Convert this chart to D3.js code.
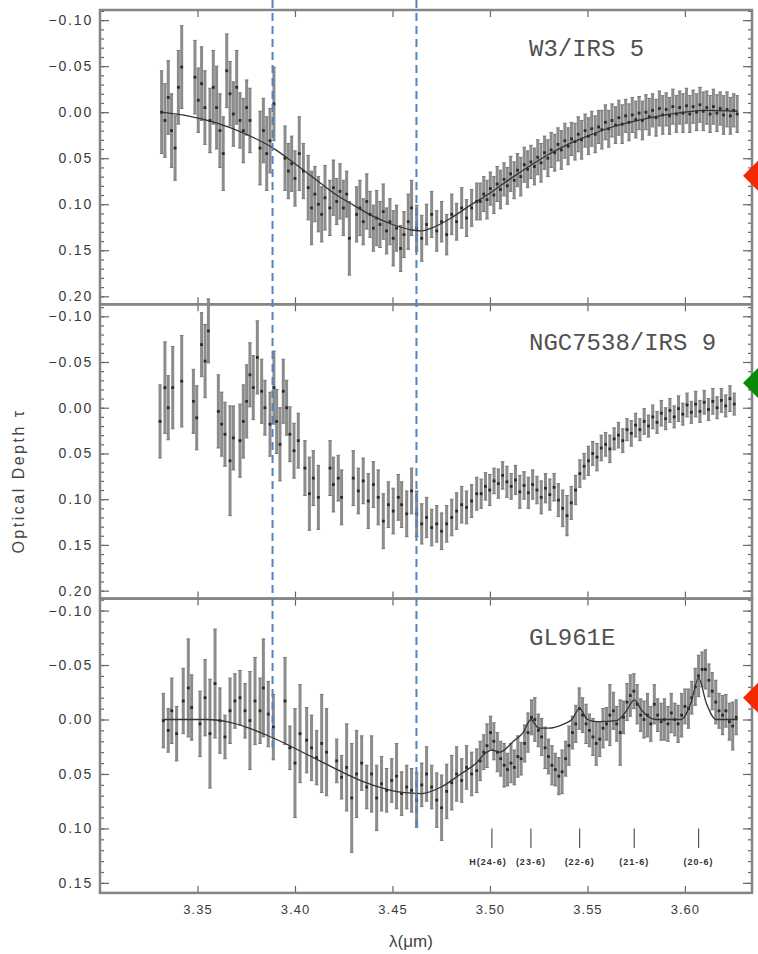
<!DOCTYPE html>
<html lang="en">
<head>
<meta charset="utf-8">
<title>Optical depth spectra</title>
<script src="https://d3js.org/d3.v7.min.js"></script>
<style>
  body { margin: 0; background: #fff; }
  svg { display: block; }
  text { font-family: "Liberation Sans", Arial, sans-serif; fill: #3c3c3c; }
  .frame { fill: none; stroke: #858585; stroke-width: 2.5; }
  .axis line { stroke: #666; stroke-width: 1.2; }
  .axis path { display: none; }
  .axis text { font-size: 14px; fill: #3a3a3a; letter-spacing: 1.8px; }
  .ebar { stroke: #8c8c8c; stroke-width: 3; }
  .cap { stroke: #777; stroke-width: 1; }
  .pt { fill: #2a2a2a; }
  .fit { fill: none; stroke: #333; stroke-width: 1.3; }
  .guide { stroke: #4a86c8; stroke-width: 2; stroke-dasharray: 8,5; }
  .name { font-family: "Liberation Mono", monospace; font-size: 24px; fill: #505050; }
  .hlab { font-size: 9px; font-weight: bold; letter-spacing: 1px; fill: #333; }
</style>
</head>
<body>
<svg id="chart" width="758" height="954"></svg>
<script>
// ---- data ----
const xTicks = [3.35, 3.40, 3.45, 3.50, 3.55, 3.60];
const panelNames = ["W3/IRS 5", "NGC7538/IRS 9", "GL961E"];
const yDomains = [[-0.111, 0.2087], [-0.1131, 0.2087], [-0.111, 0.1592]];
const yTicks = [
  [-0.10, -0.05, 0.00, 0.05, 0.10, 0.15, 0.20],
  [-0.10, -0.05, 0.00, 0.05, 0.10, 0.15, 0.20],
  [-0.10, -0.05, 0.00, 0.05, 0.10, 0.15]
];

// W3/IRS 5
const w3Wl = [3.3316,3.3333,3.3350,3.3367,3.3385,3.3402,3.3419,3.3487,3.3504,3.3521,3.3538,3.3564,3.3581,3.3598,3.3615,3.3632,3.3650,3.3667,3.3684,3.3701,3.3718,3.3735,3.3752,3.3769,3.3821,3.3838,3.3855,3.3872,3.3892,
  3.3949,3.3966,3.3983,3.4000,3.4022,3.4043,3.4068,3.4085,3.4102,3.4120,3.4137,3.4154,3.4179,3.4197,3.4214,3.4231,3.4248,3.4265,3.4279,3.4316,3.4333,3.4350,3.4368,3.4385,3.4402,3.4419,3.4436,3.4453,3.4470,3.4487,3.4504,3.4521,3.4542,3.4559,3.4581,3.4598,3.4624,3.4650,3.4675,3.4701,3.4727,3.4752,3.4778,3.4804,3.4829,3.4855,3.4880,3.4906,3.4932,
  3.4950,3.4968,3.4985,3.5002,3.5020,3.5037,3.5054,3.5072,3.5089,3.5106,3.5124,3.5141,3.5158,3.5176,3.5193,3.5210,3.5228,3.5245,3.5262,3.5280,3.5297,3.5314,3.5332,3.5349,3.5366,3.5384,3.5401,3.5418,3.5436,3.5453,3.5470,3.5488,3.5505,3.5522,3.5540,3.5557,3.5574,3.5592,3.5609,3.5626,3.5644,3.5661,3.5678,3.5696,3.5713,3.5730,3.5748,3.5765,3.5782,3.5800,3.5817,3.5834,3.5852,3.5869,3.5886,3.5904,3.5921,3.5938,3.5956,3.5973,3.5990,3.6008,3.6025,3.6042,3.6060,3.6077,3.6094,3.6112,3.6129,3.6146,3.6164,3.6181,3.6198,3.6216,3.6233,3.6250,3.6268];
const w3Tau = [0.000,0.009,-0.016,0.020,0.039,-0.027,-0.049,-0.038,-0.013,-0.031,-0.005,0.009,-0.027,-0.005,0.020,0.045,-0.045,-0.020,0.002,-0.027,0.009,0.020,-0.005,0.009,0.039,0.020,0.045,0.031,-0.009,
  0.050,0.064,0.056,0.072,0.045,0.064,0.082,0.104,0.089,0.100,0.111,0.093,0.104,0.082,0.097,0.086,0.104,0.089,0.137,0.111,0.104,0.119,0.097,0.111,0.126,0.115,0.122,0.108,0.129,0.119,0.137,0.126,0.148,0.133,0.119,0.104,0.126,0.137,0.122,0.111,0.129,0.119,0.133,0.111,0.119,0.104,0.115,0.104,0.097,
  0.097,0.089,0.095,0.083,0.090,0.078,0.084,0.073,0.080,0.067,0.074,0.063,0.070,0.057,0.062,0.054,0.059,0.049,0.055,0.044,0.050,0.041,0.044,0.035,0.041,0.031,0.037,0.029,0.032,0.024,0.030,0.020,0.026,0.018,0.024,0.016,0.019,0.011,0.018,0.009,0.014,0.006,0.013,0.004,0.011,0.003,0.008,0.001,0.009,0.000,0.005,-0.002,0.006,-0.004,0.003,-0.003,0.004,-0.006,0.002,-0.005,0.001,-0.007,0.002,-0.006,0.000,-0.008,-0.001,-0.005,0.002,-0.006,0.001,-0.004,0.003,-0.003,0.004,-0.002,0.002];
const w3Err = [0.045,0.040,0.040,0.040,0.035,0.040,0.045,0.040,0.035,0.040,0.040,0.035,0.040,0.045,0.040,0.040,0.040,0.035,0.035,0.040,0.030,0.035,0.030,0.035,0.040,0.035,0.040,0.035,0.040,
  0.035,0.030,0.030,0.030,0.040,0.030,0.035,0.040,0.030,0.030,0.030,0.035,0.030,0.030,0.025,0.030,0.030,0.025,0.040,0.030,0.030,0.025,0.030,0.025,0.025,0.030,0.025,0.030,0.025,0.025,0.030,0.025,0.025,0.025,0.030,0.030,0.025,0.025,0.022,0.025,0.022,0.022,0.022,0.022,0.020,0.022,0.020,0.020,0.020,
  0.020,0.019,0.021,0.018,0.020,0.019,0.021,0.018,0.020,0.019,0.020,0.018,0.021,0.019,0.020,0.018,0.020,0.019,0.021,0.018,0.020,0.019,0.020,0.018,0.021,0.019,0.020,0.018,0.020,0.019,0.021,0.018,0.020,0.019,0.020,0.018,0.021,0.019,0.020,0.018,0.020,0.019,0.021,0.018,0.020,0.019,0.020,0.018,0.021,0.019,0.020,0.018,0.020,0.019,0.021,0.018,0.020,0.019,0.020,0.018,0.021,0.019,0.020,0.018,0.020,0.019,0.021,0.018,0.020,0.019,0.020,0.018,0.021,0.019,0.020,0.018,0.020];
const w3FitWl = [3.331,3.345,3.360,3.375,3.388,3.400,3.410,3.420,3.430,3.440,3.450,3.460,3.465,3.470,3.480,3.490,3.500,3.510,3.520,3.530,3.540,3.550,3.560,3.570,3.580,3.590,3.600,3.610,3.627];
const w3FitTau = [0.000,0.004,0.012,0.024,0.038,0.056,0.072,0.088,0.101,0.113,0.122,0.128,0.129,0.126,0.115,0.101,0.088,0.073,0.059,0.046,0.035,0.026,0.018,0.012,0.007,0.003,0.000,-0.002,-0.001];

// NGC7538/IRS 9
const ngcWl = [3.3308,3.3333,3.3350,3.3373,3.3419,3.3479,3.3496,3.3521,3.3539,3.3556,3.3607,3.3624,3.3641,3.3667,3.3684,3.3718,3.3735,3.3752,3.3769,3.3786,3.3807,3.3829,3.3846,3.3872,3.3892,3.3906,3.3923,3.3940,3.3957,3.3974,3.3995,3.4017,3.4051,3.4074,3.4094,3.4120,3.4180,3.4197,3.4222,3.4239,3.4299,3.4325,3.4350,3.4376,3.4402,3.4427,3.4453,3.4479,3.4504,3.4530,3.4547,3.4573,3.4598,3.4624,3.4650,3.4675,3.4701,3.4727,3.4752,3.4778,3.4804,3.4829,3.4855,3.4880,3.4906,3.4932,
  3.4955,3.4977,3.4999,3.5021,3.5043,3.5065,3.5087,3.5109,3.5131,3.5153,3.5175,3.5197,3.5219,3.5241,3.5263,3.5285,3.5307,3.5329,3.5351,3.5373,3.5395,3.5417,3.5439,3.5461,3.5483,3.5505,3.5527,3.5549,3.5571,3.5593,3.5615,3.5637,3.5659,3.5681,3.5703,3.5725,3.5747,3.5769,3.5791,3.5813,3.5835,3.5857,3.5879,3.5901,3.5923,3.5945,3.5967,3.5989,3.6011,3.6033,3.6055,3.6077,3.6099,3.6121,3.6143,3.6165,3.6187,3.6209,3.6231,3.6253];
const ngcTau = [0.015,-0.022,0.000,-0.022,-0.029,-0.007,0.011,-0.069,-0.051,-0.084,0.004,0.018,0.029,0.058,0.033,0.036,0.015,-0.007,-0.036,-0.022,-0.055,-0.018,0.000,0.018,-0.022,0.015,0.040,-0.018,0.000,0.029,0.047,0.036,0.066,0.094,0.077,0.098,0.066,0.084,0.077,0.098,0.077,0.091,0.080,0.102,0.084,0.098,0.124,0.106,0.113,0.098,0.106,0.116,0.091,0.116,0.127,0.120,0.131,0.127,0.135,0.127,0.120,0.113,0.106,0.109,0.102,0.094,
  0.094,0.086,0.090,0.080,0.083,0.074,0.081,0.086,0.079,0.092,0.085,0.093,0.084,0.090,0.098,0.088,0.095,0.087,0.101,0.110,0.118,0.104,0.090,0.072,0.064,0.058,0.050,0.054,0.044,0.040,0.045,0.034,0.030,0.036,0.024,0.028,0.019,0.024,0.015,0.020,0.010,0.016,0.006,0.012,0.003,0.010,0.001,0.007,-0.003,0.005,-0.004,0.004,-0.006,0.002,-0.007,0.000,-0.008,-0.002,-0.010,-0.004];
const ngcErr = [0.040,0.050,0.035,0.045,0.050,0.035,0.035,0.035,0.040,0.035,0.040,0.035,0.035,0.060,0.035,0.040,0.040,0.040,0.035,0.035,0.040,0.035,0.030,0.035,0.040,0.035,0.040,0.035,0.030,0.030,0.030,0.030,0.030,0.040,0.030,0.035,0.030,0.030,0.025,0.030,0.030,0.025,0.025,0.030,0.025,0.030,0.030,0.025,0.025,0.025,0.025,0.025,0.025,0.025,0.022,0.022,0.020,0.020,0.020,0.020,0.020,0.020,0.020,0.018,0.018,0.018,
  0.016,0.015,0.017,0.014,0.016,0.015,0.017,0.014,0.016,0.018,0.015,0.017,0.016,0.015,0.018,0.016,0.017,0.015,0.018,0.020,0.022,0.018,0.016,0.015,0.014,0.016,0.013,0.015,0.014,0.013,0.015,0.012,0.014,0.013,0.012,0.014,0.013,0.012,0.014,0.012,0.013,0.012,0.014,0.012,0.013,0.012,0.014,0.012,0.013,0.012,0.014,0.012,0.013,0.012,0.014,0.012,0.013,0.012,0.014,0.012];

// GL961E
const glWl = [3.3325,3.3350,3.3368,3.3393,3.3427,3.3453,3.3470,3.3513,3.3539,3.3564,3.3590,3.3615,3.3641,3.3667,3.3692,3.3718,3.3744,3.3769,3.3795,3.3821,3.3838,3.3863,3.3889,3.3949,3.3974,3.4000,3.4026,3.4060,3.4085,3.4111,3.4137,3.4162,3.4214,3.4239,3.4265,3.4291,3.4316,3.4342,3.4368,3.4393,3.4419,3.4444,3.4470,3.4496,3.4521,3.4547,3.4573,3.4598,3.4624,3.4650,3.4675,3.4701,3.4727,3.4752,3.4778,3.4804,3.4829,3.4855,3.4880,3.4906,3.4932,
  3.4950,3.4968,3.4985,3.5003,3.5020,3.5038,3.5055,3.5073,3.5090,3.5108,3.5125,3.5143,3.5160,3.5178,3.5195,3.5213,3.5230,3.5248,3.5265,3.5283,3.5300,3.5318,3.5335,3.5353,3.5370,3.5388,3.5405,3.5423,3.5440,3.5458,3.5475,3.5493,3.5510,3.5528,3.5545,3.5563,3.5580,3.5598,3.5615,3.5633,3.5650,3.5668,3.5685,3.5703,3.5720,3.5738,3.5755,3.5773,3.5790,3.5808,3.5825,3.5843,3.5860,3.5878,3.5895,3.5913,3.5930,3.5948,3.5965,3.5983,3.6000,3.6018,3.6035,3.6053,3.6070,3.6088,3.6105,3.6123,3.6140,3.6158,3.6175,3.6193,3.6210,3.6228,3.6245,3.6263];
const glTau = [0.001,0.010,-0.008,0.013,-0.017,-0.029,-0.011,0.004,-0.020,0.013,-0.033,0.001,0.016,-0.008,-0.017,-0.020,-0.008,0.001,-0.017,-0.008,-0.029,-0.005,0.007,-0.017,0.026,0.040,0.013,0.019,0.026,0.035,0.022,0.030,0.038,0.053,0.044,0.072,0.050,0.040,0.062,0.050,0.072,0.059,0.065,0.056,0.052,0.068,0.062,0.065,0.074,0.060,0.050,0.062,0.074,0.081,0.066,0.058,0.050,0.056,0.044,0.050,0.047,
  0.038,0.030,0.024,0.012,0.020,0.030,0.036,0.042,0.046,0.040,0.044,0.034,0.036,0.022,0.012,-0.002,0.000,0.010,0.016,0.026,0.034,0.042,0.046,0.052,0.048,0.036,0.024,0.012,0.004,-0.010,-0.004,0.004,0.010,0.016,0.022,0.018,0.008,0.004,-0.004,-0.008,0.004,0.012,-0.002,-0.016,-0.022,-0.026,-0.014,-0.004,0.000,-0.004,0.004,-0.014,-0.004,0.002,0.000,0.004,-0.006,0.000,0.004,-0.004,-0.012,-0.010,-0.020,-0.030,-0.040,-0.046,-0.046,-0.036,-0.026,-0.016,-0.008,-0.004,-0.008,0.002,0.006,-0.002];
const glErr = [0.025,0.020,0.030,0.025,0.030,0.045,0.030,0.030,0.035,0.050,0.050,0.030,0.020,0.030,0.025,0.025,0.025,0.045,0.040,0.030,0.045,0.030,0.030,0.040,0.020,0.050,0.045,0.030,0.030,0.025,0.045,0.040,0.020,0.020,0.040,0.050,0.040,0.025,0.020,0.035,0.030,0.025,0.020,0.020,0.030,0.020,0.020,0.020,0.025,0.020,0.025,0.020,0.025,0.030,0.025,0.025,0.025,0.020,0.020,0.020,0.020,
  0.018,0.016,0.020,0.015,0.017,0.018,0.016,0.020,0.015,0.018,0.016,0.019,0.015,0.017,0.018,0.016,0.020,0.015,0.017,0.019,0.016,0.018,0.015,0.017,0.020,0.016,0.018,0.015,0.017,0.019,0.016,0.018,0.015,0.017,0.020,0.016,0.018,0.015,0.028,0.017,0.016,0.030,0.015,0.017,0.019,0.016,0.018,0.015,0.017,0.020,0.016,0.018,0.015,0.017,0.019,0.016,0.018,0.015,0.017,0.020,0.016,0.018,0.015,0.017,0.019,0.016,0.018,0.015,0.017,0.020,0.016,0.018,0.015,0.017,0.022,0.016];
const glFitWl = [3.333,3.345,3.355,3.365,3.375,3.385,3.395,3.405,3.415,3.425,3.435,3.445,3.455,3.465,3.475,3.485,3.493,3.497,3.501,3.505,3.512,3.517,3.521,3.525,3.530,3.538,3.542,3.546,3.550,3.555,3.565,3.570,3.574,3.578,3.585,3.598,3.603,3.607,3.611,3.616,3.627];
const glFitTau = [0.000,0.000,0.000,0.002,0.007,0.014,0.022,0.031,0.040,0.049,0.057,0.063,0.067,0.068,0.062,0.050,0.040,0.032,0.028,0.030,0.020,0.012,0.000,0.008,0.008,0.004,0.000,-0.010,0.000,0.002,0.001,-0.008,-0.018,-0.008,0.000,0.000,-0.015,-0.038,-0.015,0.000,0.000];

// hydrogen (n-6) line marks in GL961E
const hLineWl = [3.501, 3.521, 3.546, 3.574, 3.607];
const hLineNames = ["H(24-6)", "(23-6)", "(22-6)", "(21-6)", "(20-6)"];

// vertical guides and side markers (annotations)
const guideWl = [3.3885, 3.4623];
const guideEndTau = [0.026, 0.099];
const markerTau = [0.069, -0.027, -0.020];
const markerColor = ["#f52a00", "#0a8a0a", "#f52a00"];

// ---- layout ----
const svg = d3.select("#chart");
const left = 100, right = 752, top0 = 10, panelH = 294.3;
const x = d3.scaleLinear().domain([3.30, 3.6344]).range([left, right]);

const series = [
  {wl: w3Wl, tau: w3Tau, err: w3Err, fitWl: w3FitWl, fitTau: w3FitTau},
  {wl: ngcWl, tau: ngcTau, err: ngcErr, fitWl: null, fitTau: null},
  {wl: glWl, tau: glTau, err: glErr, fitWl: glFitWl, fitTau: glFitTau}
];

const yScales = [];
const fmt = d3.format(".2f");

series.forEach((s, i) => {
  const pTop = top0 + i * panelH, pBot = pTop + panelH;
  const y = d3.scaleLinear().domain(yDomains[i]).range([pTop, pBot]);
  yScales.push(y);
  const g = svg.append("g");

  // minor / major ticks on both sides
  const minor = y.ticks(32);
  g.append("g").attr("class", "axis").attr("transform", `translate(${left},0)`)
    .call(d3.axisLeft(y).tickValues(minor).tickSizeInner(-4).tickSizeOuter(0).tickFormat(""));
  g.append("g").attr("class", "axis").attr("transform", `translate(${right},0)`)
    .call(d3.axisRight(y).tickValues(minor).tickSizeInner(-4).tickSizeOuter(0).tickFormat(""));
  g.append("g").attr("class", "axis").attr("transform", `translate(${left},0)`)
    .call(d3.axisLeft(y).tickValues(yTicks[i]).tickSizeInner(-9).tickSizeOuter(0).tickPadding(7).tickFormat(fmt));
  g.append("g").attr("class", "axis").attr("transform", `translate(${right},0)`)
    .call(d3.axisRight(y).tickValues(yTicks[i]).tickSizeInner(-9).tickSizeOuter(0).tickFormat(""));

  g.append("g").attr("class", "axis").attr("transform", `translate(0,${pTop})`)
    .call(d3.axisTop(x).tickValues(xTicks).tickSizeInner(-7).tickSizeOuter(0).tickFormat(""));
  const bx = g.append("g").attr("class", "axis").attr("transform", `translate(0,${pBot})`)
    .call(d3.axisBottom(x).tickValues(xTicks).tickSizeInner(-7).tickSizeOuter(0).tickPadding(12)
      .tickFormat(i === 2 ? fmt : ""));
  bx.selectAll("text").style("font-size", "13px").style("letter-spacing", "1px");

  g.append("rect").attr("class", "frame")
    .attr("x", left).attr("y", pTop).attr("width", right - left).attr("height", panelH);

  const pts = d3.zip(s.wl, s.tau, s.err);
  const d = g.append("g");
  d.selectAll("line.ebar").data(pts).join("line").attr("class", "ebar")
    .attr("x1", p => x(p[0])).attr("x2", p => x(p[0]))
    .attr("y1", p => y(p[1] - p[2])).attr("y2", p => y(p[1] + p[2]));
  d.selectAll("line.capt").data(pts).join("line").attr("class", "cap capt")
    .attr("x1", p => x(p[0]) - 1.8).attr("x2", p => x(p[0]) + 1.8)
    .attr("y1", p => y(p[1] - p[2])).attr("y2", p => y(p[1] - p[2]));
  d.selectAll("line.capb").data(pts).join("line").attr("class", "cap capb")
    .attr("x1", p => x(p[0]) - 1.8).attr("x2", p => x(p[0]) + 1.8)
    .attr("y1", p => y(p[1] + p[2])).attr("y2", p => y(p[1] + p[2]));
  d.selectAll("rect.pt").data(pts).join("rect").attr("class", "pt")
    .attr("x", p => x(p[0]) - 1.4).attr("y", p => y(p[1]) - 1.4)
    .attr("width", 2.8).attr("height", 2.8);

  if (s.fitWl) {
    const line = d3.line().x(p => x(p[0])).y(p => y(p[1])).curve(d3.curveMonotoneX);
    g.append("path").attr("class", "fit").attr("d", line(d3.zip(s.fitWl, s.fitTau)));
  }

  g.append("text").attr("class", "name")
    .attr("x", 529).attr("y", pTop + 46).text(panelNames[i]);
});

// hydrogen line marks
const y3 = yScales[2];
const hg = svg.append("g");
hg.selectAll("line").data(hLineWl).join("line")
  .attr("x1", d => x(d)).attr("x2", d => x(d))
  .attr("y1", y3(0.100)).attr("y2", y3(0.118))
  .attr("stroke", "#555").attr("stroke-width", 1.2);
hg.selectAll("text").data(hLineWl).join("text").attr("class", "hlab")
  .attr("x", (d, i) => x(d) - (i === 0 ? 4 : 0)).attr("y", y3(0.131) + 3)
  .attr("text-anchor", "middle")
  .text((d, i) => hLineNames[i]);

// dashed guides
svg.append("g").selectAll("line").data(guideWl).join("line").attr("class", "guide")
  .attr("x1", d => x(d)).attr("x2", d => x(d))
  .attr("y1", 0).attr("y2", (d, i) => y3(guideEndTau[i]));

// side markers
svg.append("g").selectAll("path").data(markerTau).join("path")
  .attr("fill", (d, i) => markerColor[i])
  .attr("d", (d, i) => {
    const cx = right + 6, cy = yScales[i](d), r = 15;
    return `M${cx},${cy - r}L${cx + r},${cy}L${cx},${cy + r}L${cx - r},${cy}Z`;
  });

// axis titles
svg.append("text").attr("transform", "translate(24,481) rotate(-90)")
  .attr("text-anchor", "middle").style("font-size", "16px").style("letter-spacing", "2.5px")
  .style("fill", "#444")
  .text("Optical Depth τ");
svg.append("text").attr("x", 411).attr("y", 947).attr("text-anchor", "middle")
  .style("font-size", "17px").style("fill", "#444").text("λ(μm)");
</script>
</body>
</html>
